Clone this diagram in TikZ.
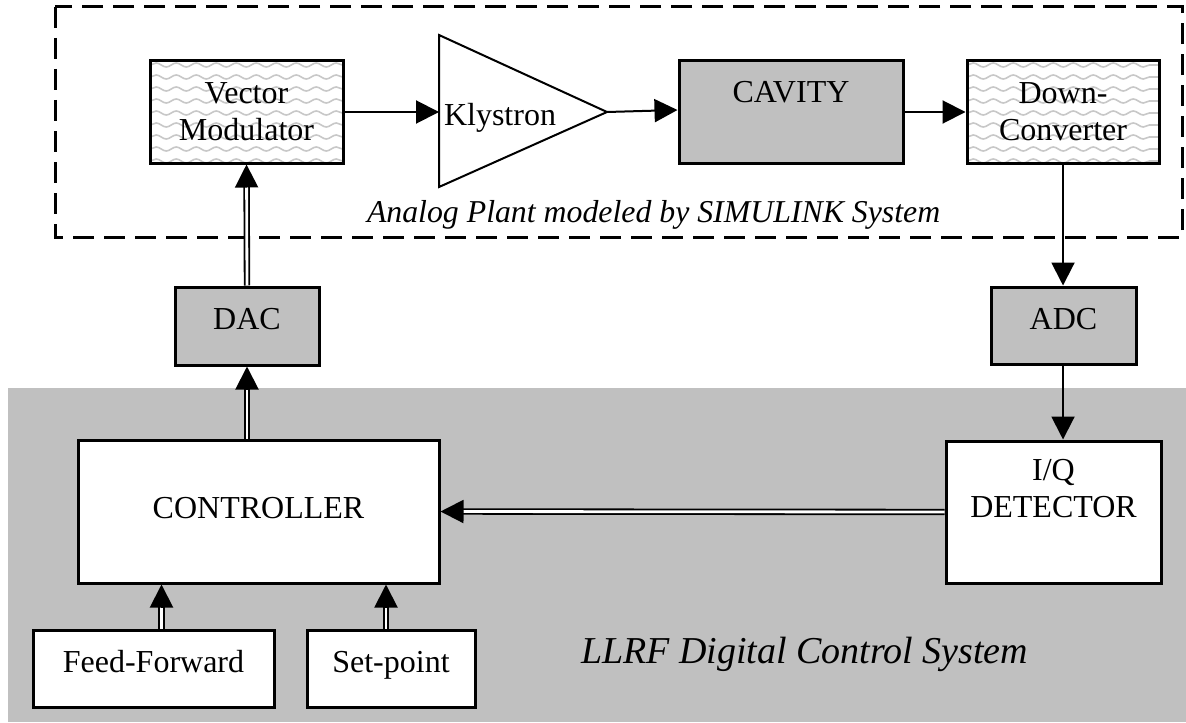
\documentclass[tikz,border=0pt]{standalone}
\usepackage{fontspec}
\setmainfont{Liberation Serif}
\usetikzlibrary{arrows.meta,calc,decorations.pathmorphing}
\definecolor{llgray}{RGB}{192,192,192}
\definecolor{wavegray}{RGB}{200,200,200}
% double line with a plain filled tip
\newcommand{\dblarrow}[2]{%
  \draw[dbl,shorten >=10pt] (#1) -- (#2);
  \draw[->] ($(#2)!11pt!(#1)$) -- (#2);}

\begin{document}
\begin{tikzpicture}[x=0.5pt,y=-0.5pt,line width=1pt,>={Triangle[length=11.5pt,width=11.5pt]},
  font=\fontsize{16}{18.5}\selectfont,
  box/.style={draw,line width=1.5pt,inner sep=0pt},
  plainbox/.style={box,fill=white},
  greybox/.style={box,fill=llgray},
  wavybox/.style={box,fill=white,align=center,path picture={
      \foreach \k in {0,...,9}
        \draw[wavegray,line width=0.8pt,decorate,decoration={snake,segment length=10pt,amplitude=1pt}]
          ([yshift=-\k*6pt-2pt]path picture bounding box.north west) -- ([yshift=-\k*6pt-2pt]path picture bounding box.north east);}},
  dbl/.style={double,double distance=1.4pt,line width=0.9pt}]
  \useasboundingbox (0,0) rectangle (1186,722);
  % digital part
  \fill[llgray] (8,388) rectangle (1186,722);
  % analog plant frame
  \draw[line width=1.5pt,dash pattern=on 10.5pt off 5pt] (55,7) rectangle (1182,237);

  \node[wavybox,minimum width=96.5pt,minimum height=51pt] (vm) at (246.5,112) {Vector\\Modulator};
  \coordinate (kin) at (439,112);
  \coordinate (kout) at (607,112);
  \draw[fill=white] (439,35) -- (kout) -- (439,187) -- cycle;
  \node[anchor=base west,inner sep=0pt] (kly) at (443,126) {Klystron};
  \node[greybox,minimum width=112pt,minimum height=51pt,text depth=20pt] (cav) at (791,112) {CAVITY};
  \node[wavybox,minimum width=96pt,minimum height=51pt] (dc) at (1063,112) {Down-\\Converter};
  \node[anchor=base west,inner sep=0pt,font=\fontsize{15.9}{18}\selectfont\itshape] (plant) at (366,222) {Analog Plant modeled by SIMULINK System};

  \node[greybox,minimum width=72pt,minimum height=39pt,text depth=7pt] (dac) at (247,326) {DAC};
  \node[greybox,minimum width=72.5pt,minimum height=38.5pt,text depth=7pt] (adc) at (1063.5,325.5) {ADC};

  \node[plainbox,minimum width=180.5pt,minimum height=71.5pt,text depth=4pt] (ctrl) at (258.5,511.5) {CONTROLLER};
  \node[plainbox,align=center,minimum width=107.5pt,minimum height=71pt] (iq) at (1053.5,512) {I/Q\\DETECTOR\\\strut};
  \node[plainbox,minimum width=120.5pt,minimum height=38.5pt,text depth=7pt] (ff) at (153.5,668.5) {Feed-Forward};
  \node[plainbox,minimum width=84pt,minimum height=38.5pt,text depth=7pt] (sp) at (391,668.5) {Set-point};
  \node[anchor=base west,inner sep=0pt,font=\fontsize{19}{22}\selectfont\itshape] (llrf) at (580,663) {LLRF Digital Control System};
  \coordinate (ffup) at ([xshift=4pt]ff.north);
  \coordinate (spup) at ([xshift=-2.5pt]sp.north);

  % signal path
  \draw[->] (vm.east |- kin) -- (kin);
  \draw[->] (kout) -- ([yshift=1pt]cav.west);
  \draw[->] (cav.east) -- (dc.west);
  \draw[->] (dc.south) -- (adc.north -| dc.south);
  \draw[->] (adc.south -| dc.south) -- (iq.north -| dc.south);
  \dblarrow{iq.west}{ctrl.east}
  \dblarrow{ctrl.north -| dac.south}{dac.south}
  \dblarrow{dac.north}{vm.south}
  \dblarrow{ffup}{ffup |- ctrl.south}
  \dblarrow{spup}{spup |- ctrl.south}
\end{tikzpicture}
\end{document}
